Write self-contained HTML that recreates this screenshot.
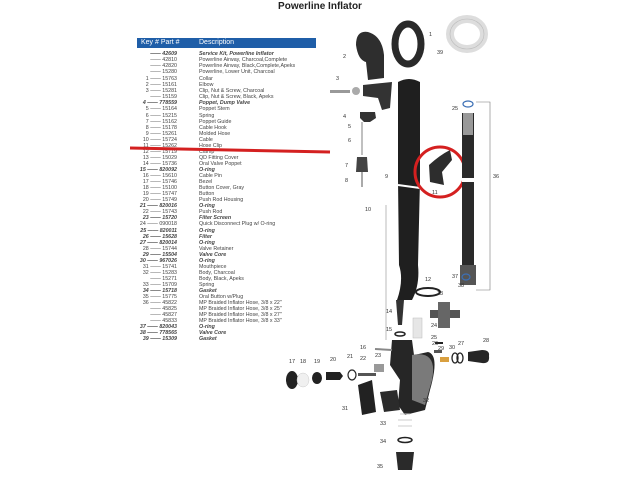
<!DOCTYPE html>
<html><head><style>
body{margin:0;width:640px;height:480px;background:#fff;overflow:hidden;position:relative;font-family:"Liberation Sans",sans-serif}
.t{position:absolute;left:0;width:640px;top:1px;text-align:center;font-weight:bold;font-size:10px;color:#222}
.hdr{position:absolute;left:137px;top:38px;width:179px;height:10px;background:#1f5ea8;color:#fff;font-size:7px;line-height:10px}
.r{position:absolute;left:137px;font-size:5.3px;line-height:6px;color:#444;white-space:nowrap}
.r span{position:absolute;left:0;width:40px;text-align:right}
.r b{position:absolute;left:0;width:40px;text-align:right;font-style:italic}
.r i{position:absolute;left:62px;font-style:normal}
.r em{position:absolute;left:62px;font-weight:bold}
</style></head><body>
<div class="t">Powerline Inflator</div>
<div class="hdr"><span style="position:absolute;left:4px">Key # Part #</span><span style="position:absolute;left:62px">Description</span></div>
<div id="rows"></div>
<script>
var R=[["b","—— 42609","Service Kit, Powerline Inflator"],["","—— 42810","Powerline Airway, Charcoal,Complete"],["","—— 42820","Powerline Airway, Black,Complete,Apeks"],["","—— 15280","Powerline, Lower Unit, Charcoal"],null,
["","1 —— 15763","Collar"],["","2 —— 15161","Elbow"],["","3 —— 15281","Clip, Nut & Screw, Charcoal"],["","—— 15159","Clip, Nut & Screw, Black, Apeks"],["b","4 —— 778559","Poppet, Dump Valve"],["","5 —— 15164","Poppet Stem"],["","6 —— 15215","Spring"],["","7 —— 15162","Poppet Guide"],["","8 —— 15178","Cable Hook"],["","9 —— 15261","Molded Hose"],["","10 —— 15724","Cable"],["","11 —— 15262","Hose Clip"],["","12 —— 15719","Clamp"],["","13 —— 15029","QD Fitting Cover"],["","14 —— 15736","Oral Valve Poppet"],["b","15 —— 820092","O-ring"],["","16 —— 15610","Cable Pin"],["","17 —— 15746","Bezel"],["","18 —— 15100","Button Cover, Gray"],["","19 —— 15747","Button"],["","20 —— 15749","Push Rod Housing"],["b","21 —— 820016","O-ring"],["","22 —— 15743","Push Rod"],["b","23 —— 15720","Filter Screen"],["","24 —— 090018","Quick Disconnect Plug w/ O-ring"],["b","25 —— 820011","O-ring"],["b","26 —— 15628","Filter"],["b","27 —— 820014","O-ring"],["","28 —— 15744","Valve Retainer"],["b","29 —— 15504","Valve Core"],["b","30 —— 967026","O-ring"],["","31 —— 15741","Mouthpiece"],["","32 —— 15283","Body, Charcoal"],["","—— 15271","Body, Black, Apeks"],["","33 —— 15709","Spring"],["b","34 —— 15718","Gasket"],["","35 —— 15775","Oral Button w/Plug"],["","36 —— 45822","MP Braided Inflator Hose, 3/8 x 22\""],["","—— 45825","MP Braided Inflator Hose, 3/8 x 25\""],["","—— 45827","MP Braided Inflator Hose, 3/8 x 27\""],["","—— 45833","MP Braided Inflator Hose, 3/8 x 33\""],["b","37 —— 820043","O-ring"],["b","38 —— 778565","Valve Core"],["b","39 —— 15309","Gasket"]];
var h="",y=50.5;R.forEach(function(r){if(!r){y+=1.5;return;}var k=r[0]=="b";h+='<div class="r" style="top:'+y.toFixed(1)+'px">'+(k?'<b>'+r[1]+'</b><em>'+r[2]+'</em>':'<span>'+r[1]+'</span><i>'+r[2]+'</i>')+'</div>';y+=6.05;});
document.getElementById("rows").innerHTML=h;
</script>
<svg width="640" height="480" style="position:absolute;left:0;top:0" font-family="Liberation Sans" font-size="5.5" fill="#333">
<line x1="130" y1="148" x2="330" y2="152" stroke="#d42020" stroke-width="3"/>
<!-- ring 39 -->
<ellipse cx="467" cy="34" rx="17" ry="15" fill="none" stroke="#ddd" stroke-width="8"/>
<ellipse cx="467" cy="34" rx="17" ry="15" fill="none" stroke="#bbb" stroke-width="0.6"/>
<!-- collar 1 -->
<ellipse cx="408" cy="44" rx="13" ry="20" fill="none" stroke="#2a2a2a" stroke-width="7"/>
<!-- elbow 2 -->
<path d="M356 45 Q356 30 368 32 Q382 36 384 55 L384 78 L368 80 L366 62 Q358 60 356 45Z" fill="#2e2e2e"/>
<!-- clip 3 -->
<path d="M363 85 L392 82 L390 108 L382 110 L378 98 L363 96Z" fill="#333"/>
<rect x="330" y="90" width="20" height="3" fill="#999"/><circle cx="356" cy="91" r="4" fill="#aaa"/>
<!-- poppet 4-8 -->
<path d="M360 112 L375 112 L376 118 L370 122 L364 122 L360 118Z" fill="#333"/>
<line x1="362" y1="122" x2="362" y2="155" stroke="#aaa" stroke-width="1.5"/>
<path d="M357 157 L367 157 L368 172 L356 172Z" fill="#444"/>
<line x1="362" y1="172" x2="362" y2="187" stroke="#aaa" stroke-width="2"/>
<!-- hose 9 -->
<path d="M398 82 Q409 76 420 82 L420 180 L418 265 Q420 285 412 300 L397 300 Q404 280 399 265 L398 180Z" fill="#1f1f1f"/>
<path d="M398 185 L420 188" stroke="#fff" stroke-width="2"/>
<!-- cable 10 -->
<line x1="386" y1="205" x2="386" y2="340" stroke="#bbb" stroke-width="1"/>
<!-- clip 11 -->
<path d="M429 165 Q440 155 450 150 L452 160 L442 172 L444 185 L430 182Z" fill="#2d2d2d"/>
<ellipse cx="440" cy="172" rx="25" ry="25" fill="none" stroke="#d42020" stroke-width="3"/>
<!-- hose 36 -->
<ellipse cx="468" cy="104" rx="5" ry="3" fill="none" stroke="#3c6fb5" stroke-width="1.2"/>
<rect x="462" y="113" width="12" height="157" fill="#2a2a2a"/>
<rect x="463" y="113" width="10" height="22" fill="#999"/>
<rect x="462" y="178" width="12" height="4" fill="#fff"/>
<rect x="460" y="265" width="16" height="20" fill="#555"/>
<path d="M476 102 H490 V290 H476" fill="none" stroke="#777" stroke-width="0.6"/>
<ellipse cx="466" cy="277" rx="4" ry="3" fill="none" stroke="#3c6fb5" stroke-width="1.2"/>
<!-- 12,13,14 -->
<ellipse cx="428" cy="292" rx="12" ry="4" fill="none" stroke="#222" stroke-width="2"/>
<path d="M430 310 L460 310 L460 318 L430 318Z" fill="#555"/><rect x="438" y="302" width="12" height="26" fill="#666"/>
<path d="M396 300 L404 300 L402 325 L398 325Z" fill="#333"/>
<rect x="413" y="318" width="9" height="20" fill="#e6e6e6" stroke="#bbb" stroke-width="0.5"/>
<ellipse cx="400" cy="334" rx="5" ry="2" fill="none" stroke="#222" stroke-width="1.5"/>
<!-- body 32 -->
<path d="M392 340 L412 340 L414 355 L428 352 Q440 355 430 390 L425 410 L405 415 L398 405 L400 380 L390 365Z" fill="#262626"/>
<path d="M412 355 Q438 350 432 380 L425 405 L412 400Z" fill="#7a7a7a"/>
<!-- mouthpiece 31 -->
<path d="M358 385 L372 380 L376 412 L362 415Z" fill="#222"/>
<path d="M380 392 L397 390 L400 410 L384 412Z" fill="#2b2b2b"/>
<!-- left parts -->
<ellipse cx="292" cy="380" rx="6" ry="9" fill="#222"/>
<ellipse cx="303" cy="380" rx="6" ry="7" fill="#f0f0f0" stroke="#ccc" stroke-width="0.5"/>
<ellipse cx="317" cy="378" rx="5" ry="6" fill="#222"/>
<path d="M326 372 L340 372 L343 376 L340 380 L326 380Z" fill="#222"/>
<ellipse cx="352" cy="375" rx="4" ry="5" fill="none" stroke="#222" stroke-width="1.2"/>
<rect x="358" y="373" width="18" height="3" fill="#555"/>
<rect x="374" y="364" width="10" height="8" fill="#999"/>
<line x1="375" y1="349" x2="392" y2="350" stroke="#888" stroke-width="2"/>
<!-- right parts 25-30 -->
<rect x="435" y="342" width="8" height="2" fill="#222"/><rect x="434" y="350" width="8" height="3" fill="#555"/>
<rect x="440" y="357" width="9" height="5" fill="#d9a040"/>
<ellipse cx="455" cy="358" rx="3" ry="5" fill="none" stroke="#222" stroke-width="1.3"/>
<ellipse cx="460" cy="358" rx="3" ry="5" fill="none" stroke="#222" stroke-width="1.3"/>
<path d="M468 352 L482 350 Q490 350 489 356 Q490 364 482 363 L468 361Z" fill="#262626"/>
<!-- bottom 33-35 -->
<path d="M400 414 L410 414 M398 420 L412 420 M398 426 L412 426" stroke="#ccc" stroke-width="1"/>
<ellipse cx="405" cy="440" rx="7" ry="2.5" fill="none" stroke="#222" stroke-width="1.5"/>
<path d="M396 452 L414 452 L412 470 L398 470Z" fill="#2a2a2a"/>
<!-- labels -->
<g>
<text x="429" y="36">1</text><text x="343" y="58">2</text><text x="336" y="80">3</text><text x="343" y="118">4</text>
<text x="348" y="128">5</text><text x="348" y="142">6</text><text x="345" y="167">7</text><text x="345" y="182">8</text>
<text x="385" y="178">9</text><text x="365" y="211">10</text><text x="432" y="194">11</text><text x="425" y="281">12</text>
<text x="437" y="295">13</text><text x="386" y="313">14</text><text x="386" y="331">15</text><text x="360" y="349">16</text>
<text x="289" y="363">17</text><text x="300" y="363">18</text><text x="314" y="363">19</text><text x="330" y="361">20</text>
<text x="347" y="358">21</text><text x="360" y="360">22</text><text x="375" y="357">23</text><text x="431" y="327">24</text>
<text x="452" y="110">25</text><text x="431" y="339">25</text><text x="432" y="345">26</text><text x="458" y="345">27</text>
<text x="483" y="342">28</text><text x="438" y="350">29</text><text x="449" y="349">30</text><text x="342" y="410">31</text>
<text x="423" y="402">32</text><text x="380" y="425">33</text><text x="380" y="443">34</text><text x="377" y="468">35</text>
<text x="493" y="178">36</text><text x="452" y="278">37</text><text x="458" y="287">38</text><text x="437" y="54">39</text>
</g>
</svg>
</body></html>
